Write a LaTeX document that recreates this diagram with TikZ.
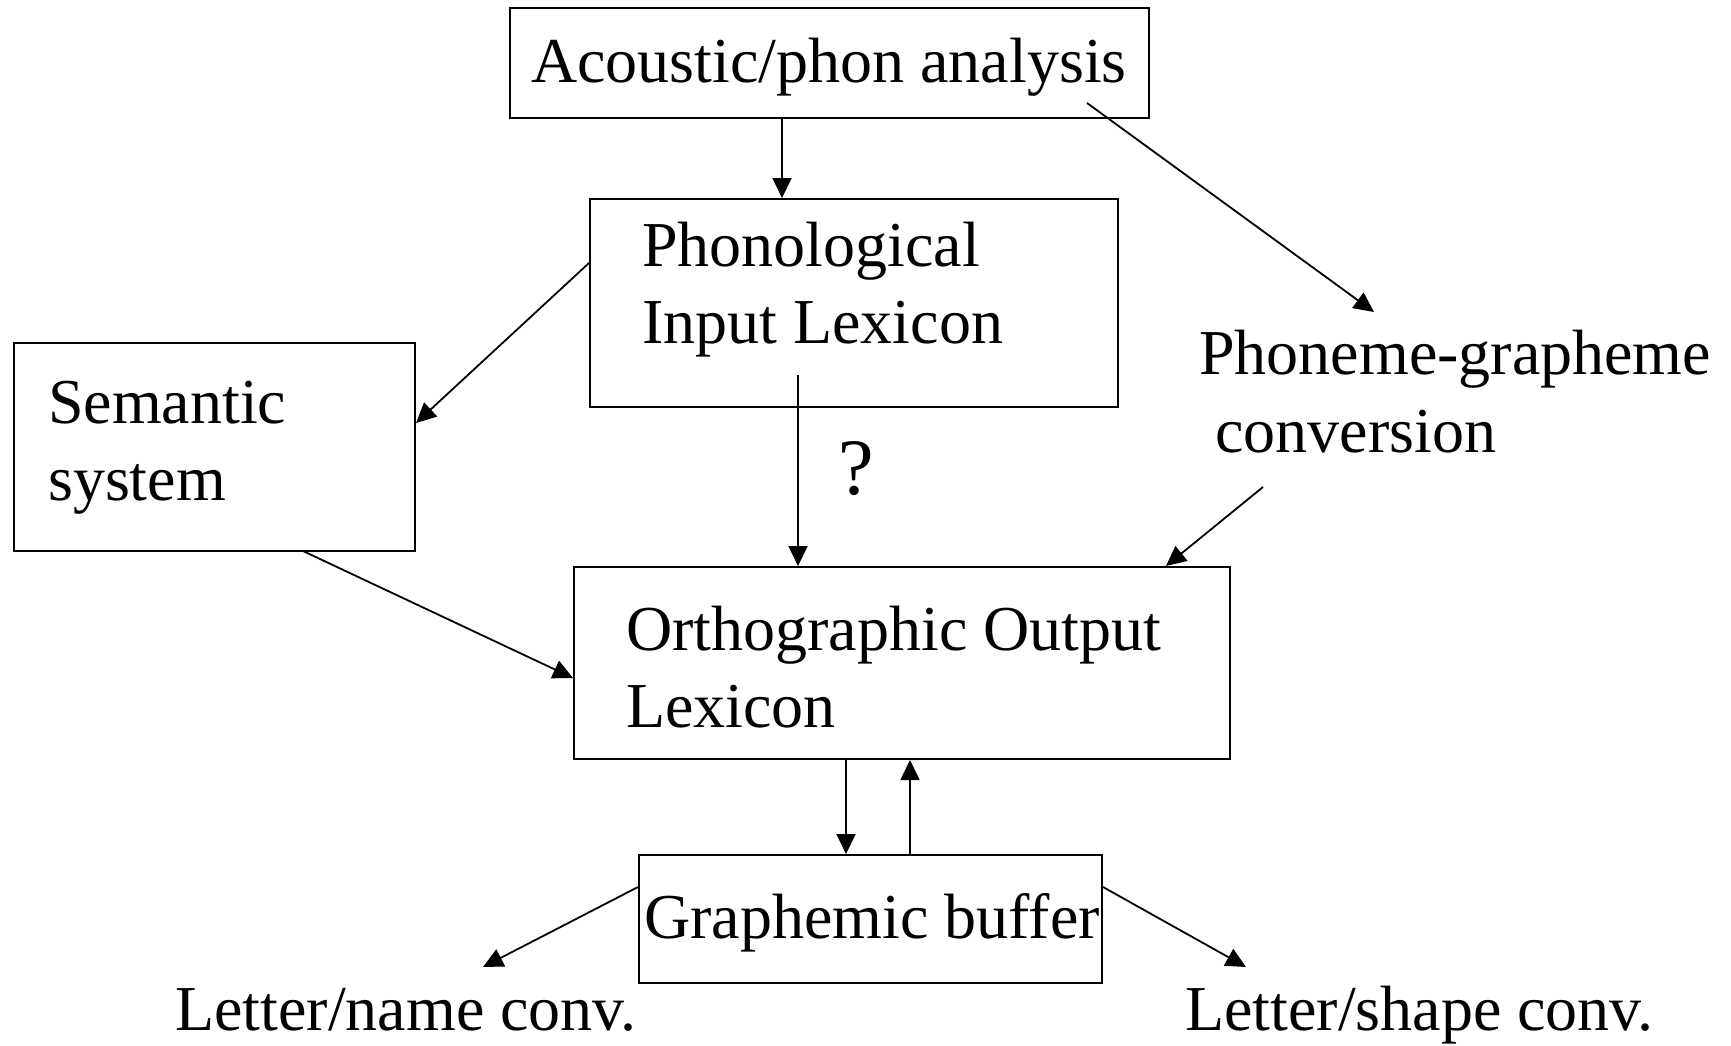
\documentclass[tikz,border=0pt]{standalone}
\usepackage{fontspec}
\setmainfont{Liberation Serif}
\usetikzlibrary{arrows.meta}
\begin{document}
\begin{tikzpicture}[x=1pt,y=-1pt,
  box/.style={draw, line width=2pt, inner sep=0pt},
  lbl/.style={anchor=base west, inner sep=0pt, font=\fontsize{64}{75}\selectfont},
  arr/.style={line width=1.8pt, -{Triangle[length=20pt,width=19pt]}}]
\useasboundingbox (0,0) rectangle (1731,1045);
% boxes
\node[box, minimum width=639pt, minimum height=110pt] (ac) at (829.5,63) {};
\node[box, minimum width=528pt, minimum height=208pt] (ph) at (854,303) {};
\node[box, minimum width=401pt, minimum height=208pt] (sem) at (214.5,447) {};
\node[box, minimum width=656pt, minimum height=192pt] (or) at (902,663) {};
\node[box, minimum width=463pt, minimum height=128pt] (gb) at (870.5,919) {};
% texts
\node[lbl] (tac) at (531,82) {Acoustic/phon analysis};
\node[lbl] (tph1) at (642,266) {Phonological};
\node[lbl] (tph2) at (642,343) {Input Lexicon};
\node[lbl] (tsem1) at (48,423) {Semantic};
\node[lbl] (tsem2) at (48,500) {system};
\node[lbl] (tpg1) at (1199,374) {Phoneme-grapheme};
\node[lbl] (tpg2) at (1215,452) {conversion};
\node[lbl, font=\fontsize{80}{90}\selectfont] (tq) at (838,494) {?};
\node[lbl] (tor1) at (626,650) {Orthographic Output};
\node[lbl] (tor2) at (626,727) {Lexicon};
\node[lbl] (tgb) at (644,938) {Graphemic buffer};
\node[lbl] (tln) at (175,1030) {Letter/name conv.};
\node[lbl] (tls) at (1185,1030) {Letter/shape conv.};
% helper coordinates
\coordinate (x1) at (782,0);
\coordinate (acp) at (1087,103);
\coordinate (pgin) at (1374,312);
\coordinate (y1) at (0,263);
\coordinate (y2) at (0,423);
\coordinate (phin) at (798,375);
\coordinate (x2) at (798,0);
\coordinate (semout) at (303,551);
\coordinate (y3) at (0,678);
\coordinate (pgout) at (1263,487);
\coordinate (x3) at (1166,0);
\coordinate (x4) at (846,0);
\coordinate (x5) at (910,0);
\coordinate (y4) at (0,887);
\coordinate (lnin) at (483,967);
\coordinate (lsin) at (1246,967);
% connectors
\draw[arr] (ac.south -| x1) -- (ph.north -| x1);
\draw[arr] (acp) -- (pgin);
\draw[arr] (ph.west |- y1) -- (sem.east |- y2);
\draw[arr] (phin) -- (or.north -| x2);
\draw[arr] (semout) -- (or.west |- y3);
\draw[arr] (pgout) -- (or.north -| x3);
\draw[arr] (or.south -| x4) -- (gb.north -| x4);
\draw[arr] (gb.north -| x5) -- (or.south -| x5);
\draw[arr] (gb.west |- y4) -- (lnin);
\draw[arr] (gb.east |- y4) -- (lsin);
\end{tikzpicture}
\end{document}
